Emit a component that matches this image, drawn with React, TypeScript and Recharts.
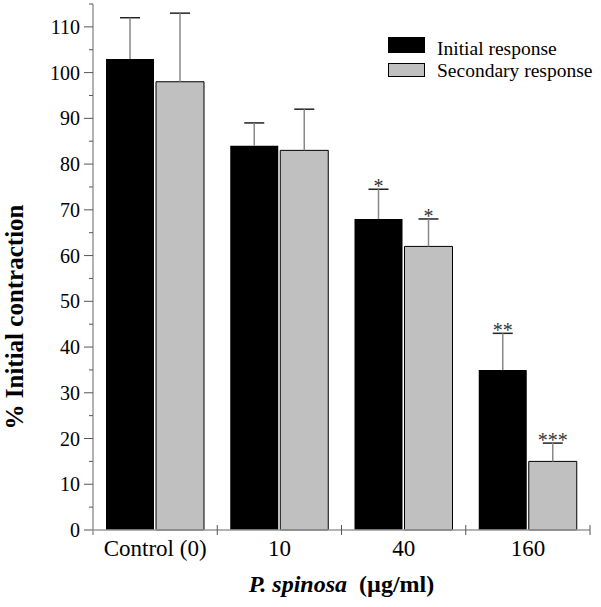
import { BarChart, Bar, XAxis, YAxis, ErrorBar, LabelList, Legend } from 'recharts';

const categories = ['Control (0)', '10', '40', '160'];
const initialResponse = [103, 84, 68, 35];
const initialErr = [9, 5, 6.5, 8];
const initialSig = ['', '', '*', '**'];
const secondaryResponse = [98, 83, 62, 15];
const secondaryErr = [15, 9, 6, 4];
const secondarySig = ['', '', '*', '***'];
const yTicks = [0, 5, 10, 15, 20, 25, 30, 35, 40, 45, 50, 55, 60, 65, 70, 75, 80, 85, 90, 95, 100, 105, 110, 115];

const data = categories.map((name, i) => ({
  name,
  initial: initialResponse[i],
  initialErr: [0, initialErr[i]],
  secondary: secondaryResponse[i],
  secondaryErr: [0, secondaryErr[i]],
}));

const serif = "'Liberation Serif', Tinos, 'Times New Roman', 'DejaVu Serif', 'Noto Serif', serif";
const axisGrey = '#9a9a9a';

// upper cap dark, stem grey, no lower cap
const css = `
.recharts-errorBar line:nth-of-type(1) { stroke: #222; }
.recharts-errorBar line:nth-of-type(3) { display: none; }
`;

function YTick({ x, y, payload }: any) {
  const major = payload.value % 10 === 0;
  return (
    <g>
      <line x1={x - (major ? 9 : 4)} x2={x} y1={y} y2={y} stroke="#555" />
      {payload.value === 0 && <line x1={x} x2={x} y1={y} y2={y + 5} stroke={axisGrey} strokeWidth={1.5} />}
      {major && (
        <text x={x - 13} y={y + 7} textAnchor="end" fontFamily={serif} fontSize={20} fill="#000">
          {payload.value}
        </text>
      )}
    </g>
  );
}

function XTick({ x, y, payload, index }: any) {
  const half = payload.offset || 62;
  return (
    <g>
      {index > 0 && <line x1={x - half} x2={x - half} y1={y - 5} y2={y + 5} stroke="#555" />}
      {index === categories.length - 1 && <line x1={x + half} x2={x + half} y1={y - 5} y2={y + 5} stroke="#555" />}
      <text x={x} y={y + 26} textAnchor="middle" fontFamily={serif} fontSize={23} fill="#000">
        {payload.value}
      </text>
    </g>
  );
}

function sigLabel(errs: number[], sigs: string[]) {
  return (props: any) => {
    const { x, y, width, height, value, index } = props;
    if (!sigs[index]) return null;
    const capY = y - errs[index] * (height / value);
    return (
      <text x={x + width / 2} y={capY + 4} textAnchor="middle" fontFamily={serif} fontSize={20} fill="#333">
        {sigs[index]}
      </text>
    );
  };
}

function LegendBox({ payload }: any) {
  return (
    <svg width={216} height={56}>
      {(payload || []).map((p: any, i: number) => (
        <g key={p.value}>
          {i === 0 ? (
            <rect x={3} y={7} width={37} height={16} fill={p.color} />
          ) : (
            <rect x={3.5} y={33.5} width={36} height={13} fill={p.color} stroke="#000" />
          )}
          <text x={52} y={i === 0 ? 25 : 47} fontFamily={serif} fontSize={19.5} fill="#000">
            {p.value}
          </text>
        </g>
      ))}
    </svg>
  );
}

export default function App() {
  return (
    <div style={{ position: 'absolute', left: 0, top: 0, width: 601, height: 607, background: '#fff' }}>
      <style>{css}</style>
      <BarChart
        width={601}
        height={607}
        data={data}
        margin={{ top: 4, right: 11, bottom: 0, left: 0 }}
        barSize={48}
        barGap={2}
      >
        <XAxis
          dataKey="name"
          height={77}
          tickSize={0}
          tickMargin={0}
          axisLine={{ stroke: axisGrey, strokeWidth: 1.5 }}
          tick={<XTick />}
          interval={0}
        />
        <YAxis
          width={93}
          domain={[0, 115]}
          ticks={yTicks}
          interval={0}
          tickSize={0}
          tickMargin={0}
          axisLine={{ stroke: axisGrey, strokeWidth: 1.5 }}
          tick={<YTick />}
          label={(props: any) => {
            const vb = props.viewBox || { y: 4, height: 526 };
            const cy = vb.y + vb.height / 2 + 50;
            return (
              <text
                x={23}
                y={cy}
                transform={`rotate(-90 23 ${cy})`}
                textAnchor="middle"
                fontFamily={serif}
                fontWeight="bold"
                fontSize={25}
                fill="#000"
              >
                % Initial contraction
              </text>
            );
          }}
        />
        <Legend
          layout="vertical"
          align="center"
          verticalAlign="middle"
          wrapperStyle={{ top: 30, left: 385, width: 216 }}
          content={<LegendBox />}
        />
        <Bar dataKey="initial" name="Initial response" fill="#000" isAnimationActive={false}>
          <ErrorBar dataKey="initialErr" direction="y" width={10} stroke="#888" strokeWidth={1.5} />
          <LabelList dataKey="initial" content={sigLabel(initialErr, initialSig)} />
        </Bar>
        <Bar dataKey="secondary" name="Secondary response" fill="#c0c0c0" stroke="#000" strokeWidth={1} isAnimationActive={false}>
          <ErrorBar dataKey="secondaryErr" direction="y" width={10} stroke="#888" strokeWidth={1.5} />
          <LabelList dataKey="secondary" content={sigLabel(secondaryErr, secondarySig)} />
        </Bar>
      </BarChart>
      <div
        style={{
          position: 'absolute',
          left: 93,
          width: 497,
          top: 570,
          textAlign: 'center',
          fontFamily: serif,
          fontWeight: 'bold',
          fontSize: 24,
          lineHeight: '28px',
        }}
      >
        <i>P. spinosa</i>&nbsp;&nbsp;(µg/ml)
      </div>
    </div>
  );
}
